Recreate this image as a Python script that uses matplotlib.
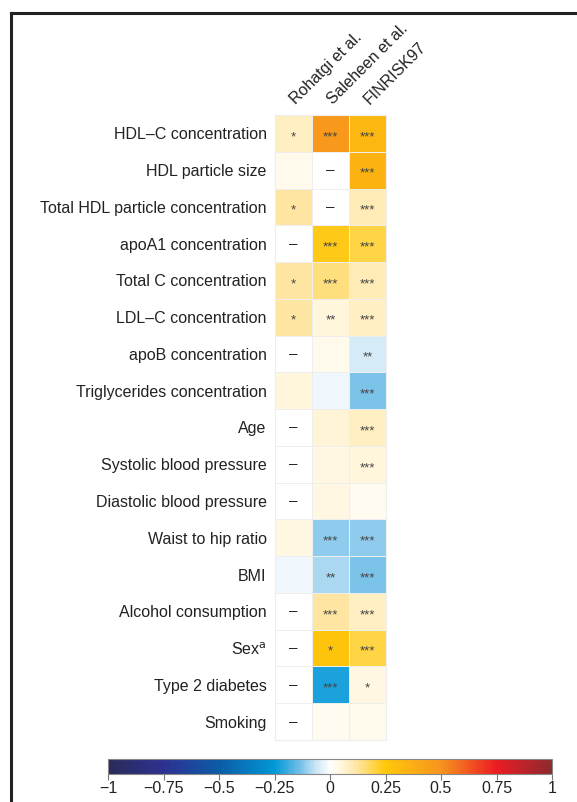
import numpy as np
import matplotlib
matplotlib.use("Agg")
import matplotlib.pyplot as plt
from matplotlib.colors import LinearSegmentedColormap
from matplotlib.lines import Line2D

plt.rcParams["font.family"] = ["Liberation Sans", "DejaVu Sans"]

studies = ["Rohatgi et al.", "Saleheen et al.", "FINRISK97"]
traits = [
    "HDL\u2013C concentration",
    "HDL particle size",
    "Total HDL particle concentration",
    "apoA1 concentration",
    "Total C concentration",
    "LDL\u2013C concentration",
    "apoB concentration",
    "Triglycerides concentration",
    "Age",
    "Systolic blood pressure",
    "Diastolic blood pressure",
    "Waist to hip ratio",
    "BMI",
    "Alcohol consumption",
    "Sex$^{\\mathrm{a}}$",
    "Type 2 diabetes",
    "Smoking",
]

nan = np.nan
# correlation with cholesterol efflux capacity, one column per study
rohatgi = [0.08, 0.03, 0.12, nan, 0.12, 0.12, nan, 0.05, nan, nan, nan, 0.04, -0.02, nan, nan, nan, nan]
saleheen = [0.47, nan, nan, 0.24, 0.15, 0.05, 0.03, -0.02, 0.06, 0.04, 0.04, -0.11, -0.09, 0.12, 0.27, -0.22, 0.02]
finrisk = [0.33, 0.35, 0.10, 0.20, 0.10, 0.08, -0.05, -0.13, 0.08, 0.05, 0.02, -0.11, -0.13, 0.08, 0.20, 0.04, 0.03]

rohatgi_sig = ["*", "", "*", "", "*", "*", "", "", "", "", "", "", "", "", "", "", ""]
saleheen_sig = ["***", "", "", "***", "***", "**", "", "", "", "", "", "***", "**", "***", "*", "***", ""]
finrisk_sig = ["***", "***", "***", "***", "***", "***", "**", "***", "***", "***", "", "***", "***", "***", "***", "*", ""]

cbar_ticks = [-1, -0.75, -0.5, -0.25, 0, 0.25, 0.5, 0.75, 1]

values = np.array([rohatgi, saleheen, finrisk]).T
stars = np.array([rohatgi_sig, saleheen_sig, finrisk_sig]).T

cmap = LinearSegmentedColormap.from_list("efflux", [
    (0.000, "#2a2b58"),
    (0.125, "#2e3192"),
    (0.250, "#0b5ca6"),
    (0.375, "#0098d8"),
    (0.430, "#6fbde8"),
    (0.470, "#cfe8f7"),
    (0.500, "#ffffff"),
    (0.525, "#fff6dc"),
    (0.560, "#fee6a4"),
    (0.625, "#ffc80a"),
    (0.750, "#f7941d"),
    (0.875, "#ed1c24"),
    (1.000, "#8c2a2e"),
])
cmap.set_bad("white")

fig = plt.figure(figsize=(5.77, 8.02), dpi=100)
W, H = 577, 802

ax = fig.add_axes([275 / W, 1 - 740 / H, 111 / W, 625 / H])
data = np.ma.masked_invalid(values)
ax.pcolormesh(data, cmap=cmap, vmin=-1, vmax=1, edgecolors="#eeeeee", linewidth=0.6)
ax.set_xlim(0, 3)
ax.set_ylim(len(traits), 0)

for i in range(len(traits)):
    for j in range(len(studies)):
        if np.isnan(values[i, j]):
            ax.text(j + 0.5, i + 0.5, "\u2013", ha="center", va="center",
                    fontsize=11, color="#222222")
        elif stars[i, j]:
            ax.text(j + 0.5, i + 0.6, stars[i, j], ha="center", va="center",
                    fontsize=9.5, color="#444444")

ax.set_yticks(np.arange(len(traits)) + 0.5)
ax.set_yticklabels(traits, fontsize=11.5, color="#222222")
ax.tick_params(axis="y", length=0, pad=6)
ax.set_xticks([])
for s in ax.spines.values():
    s.set_color("#eeeeee")
    s.set_linewidth(0.8)

for j, name in enumerate(studies):
    ax.text(j + 0.62, -0.22, name, rotation=45, rotation_mode="anchor",
            ha="left", va="bottom", fontsize=11.5, color="#222222")

cax = fig.add_axes([108 / W, 1 - 774 / H, 444 / W, 15 / H])
sm = plt.cm.ScalarMappable(cmap=cmap, norm=plt.Normalize(-1, 1))
cb = fig.colorbar(sm, cax=cax, orientation="horizontal", ticks=cbar_ticks)
cb.ax.set_xticklabels(["\u22121", "\u22120.75", "\u22120.5", "\u22120.25", "0",
                       "0.25", "0.5", "0.75", "1"])
cb.ax.tick_params(length=4, width=0.8, color="#777777", labelsize=11.5,
                  labelcolor="#222222", pad=1)
cb.outline.set_edgecolor("#888888")
cb.outline.set_linewidth(0.8)

# panel frame along the top and left edges
fig.add_artist(Line2D([11 / W, 1.0], [1 - 13 / H, 1 - 13 / H], color="#222222",
                      linewidth=2.2, transform=fig.transFigure))
fig.add_artist(Line2D([11 / W, 11 / W], [0.0, 1 - 13 / H], color="#222222",
                      linewidth=2.2, transform=fig.transFigure))

fig.savefig("out.png", dpi=100)
